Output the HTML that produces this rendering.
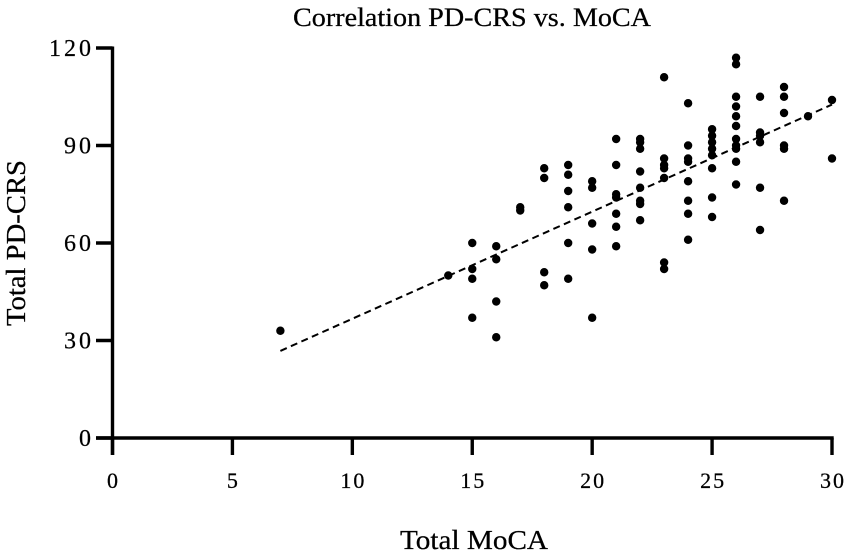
<!DOCTYPE html>
<html>
<head>
<meta charset="utf-8">
<style>
html,body{margin:0;padding:0;background:#fff;width:851px;height:557px;overflow:hidden}
svg{display:block}
text{font-family:"Liberation Serif",serif;fill:#000;stroke:#000;stroke-width:.25}
</style>
</head>
<body>
<svg id="chart" width="851" height="557" viewBox="0 0 851 557" xmlns="http://www.w3.org/2000/svg">
<text x="472" y="26" font-size="26" text-anchor="middle" textLength="358" lengthAdjust="spacingAndGlyphs">Correlation PD-CRS vs. MoCA</text>
<text x="474" y="549" font-size="27" text-anchor="middle" textLength="148" lengthAdjust="spacingAndGlyphs">Total MoCA</text>
<text transform="translate(25,243) rotate(-90)" font-size="27" text-anchor="middle" textLength="166" lengthAdjust="spacingAndGlyphs">Total PD-CRS</text>
<g id="marks"></g>
</svg>
<script>
const xTicks = [0, 5, 10, 15, 20, 25, 30];
const yTicks = [0, 30, 60, 90, 120];
const moca = [
  7, 14,
  15, 15, 15, 15,
  16, 16, 16, 16,
  17, 17,
  18, 18, 18, 18,
  19, 19, 19, 19, 19, 19,
  20, 20, 20, 20, 20,
  21, 21, 21, 21, 21, 21, 21,
  22, 22, 22, 22, 22, 22, 22, 22,
  23, 23, 23, 23, 23, 23, 23,
  24, 24, 24, 24, 24, 24, 24, 24,
  25, 25, 25, 25, 25, 25, 25, 25,
  26, 26, 26, 26, 26, 26, 26, 26, 26, 26, 26,
  27, 27, 27, 27, 27, 27,
  28, 28, 28, 28, 28, 28,
  29, 30, 30
];
const pdcrs = [
  33, 50,
  60, 52, 49, 37,
  59, 55, 42, 31,
  71, 70,
  83, 80, 51, 47,
  84, 81, 76, 71, 60, 49,
  79, 77, 66, 58, 37,
  92, 84, 75, 74, 69, 65, 59,
  92, 91, 89, 82, 77, 73, 72, 67,
  111, 86, 84, 83, 80, 54, 52,
  103, 90, 86, 85, 79, 73, 69, 61,
  95, 93, 91, 89, 87, 83, 74, 68,
  117, 115, 105, 102, 99, 96, 92, 90, 89, 85, 78,
  105, 94, 93, 91, 77, 64,
  108, 105, 100, 90, 89, 73,
  99, 104, 86
];
const fitX = [7, 30];
const fitY = [26.8, 102.6];

const NS = 'http://www.w3.org/2000/svg';
const marks = document.getElementById('marks');
function sx(v) { return 112.5 + v * (832 - 112.5) / 30; }
function sy(v) { return 438 - v * (438 - 48) / 120; }
function make(tag, attrs) {
  const el = document.createElementNS(NS, tag);
  for (const k in attrs) el.setAttribute(k, attrs[k]);
  marks.appendChild(el);
  return el;
}

const fit = make('line', {x1: sx(fitX[0]), y1: sy(fitY[0]), x2: sx(fitX[1]), y2: sy(fitY[1]), stroke: '#000', 'stroke-width': 2, 'stroke-dasharray': '7 4.5'});



moca.forEach(function (m, i) {
  const c = make('circle', {cx: sx(m), cy: sy(pdcrs[i]), r: 4.2, fill: '#000'});
  
  
});

const yAxis = make('line', {x1: sx(0), y1: sy(120) - 1.5, x2: sx(0), y2: 455, stroke: '#000', 'stroke-width': 3.4});



const xAxis = make('line', {x1: 96, y1: sy(0), x2: sx(30) + 1.7, y2: sy(0), stroke: '#000', 'stroke-width': 3.4});



xTicks.forEach(function (t) {
  const tick = make('line', {x1: sx(t), y1: sy(0), x2: sx(t), y2: 455, stroke: '#000', 'stroke-width': 3.4});
  
  
  const label = make('text', {x: sx(t) + 1, y: 488, 'font-size': 22, 'text-anchor': 'middle', 'letter-spacing': 2});
  label.textContent = t;
  
  
});

yTicks.forEach(function (t) {
  const tick = make('line', {x1: 96, y1: sy(t), x2: sx(0), y2: sy(t), stroke: '#000', 'stroke-width': 3.4});
  
  
  const label = make('text', {x: 94, y: sy(t) + 8, 'font-size': 24, 'text-anchor': 'end', 'letter-spacing': 3});
  label.textContent = t;
  
  
});
</script>
</body>
</html>
